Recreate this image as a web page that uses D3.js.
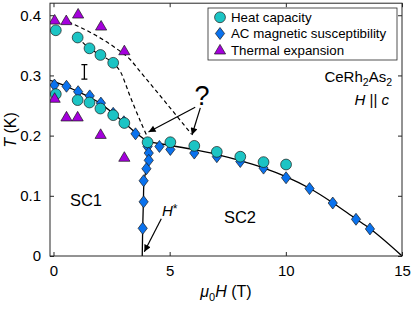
<!DOCTYPE html>
<html><head><meta charset="utf-8">
<script src="https://cdn.jsdelivr.net/npm/d3@7"></script>
<style>body{margin:0;background:#fff;} text{font-family:"Liberation Sans",Arial,Helvetica,sans-serif;fill:#000;}</style>
</head><body><svg id="c" width="415" height="312"></svg>
<script>
// ---- data (field H in T, temperature T in K) ----
const heatCapacity = [[0.1,0.375],[1.04,0.363],[1.55,0.345],[2.02,0.334],[2.57,0.321],
  [0.1,0.269],[1.04,0.259],[1.55,0.255],[2.02,0.245],[2.57,0.234],[3.05,0.221],
  [4.05,0.189],[5.03,0.189],[6.06,0.183],[7.03,0.173],[8.04,0.165],[9.04,0.156],[10.01,0.152]];
const acSusceptibility = [[0.04,0.284],[0.56,0.282],[1.06,0.273],[1.56,0.266],[2.04,0.254],[2.57,0.237],
  [3.03,0.223],[3.53,0.203],[4.05,0.182],[4.1,0.171],[4.1,0.159],[4.0,0.145],[3.88,0.125],[3.88,0.090],[3.84,0.046],
  [4.56,0.182],[5.03,0.177],[6.06,0.171],[7.03,0.165],[8.04,0.157],[9.04,0.146],[10.01,0.130],
  [11.02,0.112],[12.02,0.088],[13.02,0.061],[13.62,0.045]];
const thermalExpansion = [[0.05,0.392],[0.55,0.391],[1.06,0.402],[2.05,0.382],[3.05,0.341],
  [0.05,0.262],[0.56,0.231],[1.04,0.231],[2.03,0.202],[3.05,0.164]];
const errorBar = [[1.33,0.306,0.012]];
const lineSC1 = [[-0.15,0.292],[0.5,0.283],[1,0.274],[1.5,0.265],[2,0.254],[2.5,0.239],[3,0.223],[3.5,0.206],[4.05,0.19]];
const lineSC2 = [[4.05,0.19],[5,0.184],[6,0.177],[7,0.169],[8,0.159],[9,0.147],[10,0.132],[11,0.113],[12,0.089],[13,0.062],[13.6,0.046],[15,0]];
const lineHstar = [[4.05,0.19],[4.1,0.172],[4.08,0.16],[4.0,0.145],[3.9,0.125],[3.87,0.09],[3.84,0.046],[3.82,0]];
const dashOuter = [[0.645,0.389],[1.8,0.367],[2.66,0.346],[3.31,0.326],[3.74,0.306],[4.81,0.256],[5.93,0.203]];
const dashInner = [[1.04,0.363],[1.55,0.345],[2.02,0.334],[2.57,0.321],[2.88,0.306],[3.09,0.287],[3.31,0.264],[3.74,0.224],[4.04,0.198]];
const xTicks = [0,5,10,15];
const yTicks = [0,0.1,0.2,0.3,0.4];
const yTickLabels = ["0","0.1","0.2","0.3","0.4"];
const legendLabels = ["Heat capacity","AC magnetic susceptibility","Thermal expansion"];

const svg = d3.select("#c");
const L=50,R=402,T=3.2,B=256;
const x = d3.scaleLinear().domain([-0.15,15]).range([L,R]);
const y = d3.scaleLinear().domain([0,0.42]).range([B,T]);
const frame="#262626";
const cHC="#1cc4c4", cAC="#0a72ee", cTE="#a400dc";

const clip = svg.append("defs");
clip.append("clipPath").attr("id","pc").append("rect").attr("x",L).attr("y",T).attr("width",R-L).attr("height",B-T);
clip.append("marker").attr("id","ah").attr("viewBox","0 0 10 10").attr("refX",10).attr("refY",5)
  .attr("markerUnits","userSpaceOnUse").attr("markerWidth",9).attr("markerHeight",7).attr("orient","auto")
  .append("path").attr("d","M0,0L10,5L0,10z").attr("fill","#000");

const g = svg.append("g").attr("clip-path","url(#pc)");
const line = d3.line().x(d=>x(d[0])).y(d=>y(d[1]));
g.append("path").attr("d",line.curve(d3.curveMonotoneX)(dashOuter)).attr("fill","none").attr("stroke","#000").attr("stroke-width",1.2).attr("stroke-dasharray","4,3");
g.append("path").attr("d",line.curve(d3.curveCatmullRom)(dashInner)).attr("fill","none").attr("stroke","#000").attr("stroke-width",1.2).attr("stroke-dasharray","4,3");
g.append("path").attr("d",line.curve(d3.curveMonotoneX)(lineSC1)).attr("fill","none").attr("stroke","#000").attr("stroke-width",1.3);
g.append("path").attr("d",line.curve(d3.curveMonotoneX)(lineSC2)).attr("fill","none").attr("stroke","#000").attr("stroke-width",1.3);
g.append("path").attr("d",line.curve(d3.curveCatmullRom)(lineHstar)).attr("fill","none").attr("stroke","#000").attr("stroke-width",1.3);

// error bar
errorBar.forEach(e=>{
  const xe=x(e[0]), y1=y(e[1]-e[2]), y2=y(e[1]+e[2]);
  g.append("path").attr("d",`M${xe},${y1}V${y2}M${xe-3},${y1}H${xe+3}M${xe-3},${y2}H${xe+3}`).attr("stroke","#000").attr("stroke-width",1.3).attr("fill","none");
});

const diamond="M0,-6L4.6,0L0,6L-4.6,0Z";
const tri="M0,-5.6L5.6,4L-5.6,4Z";
g.selectAll(".ac").data(acSusceptibility).enter().append("path").attr("d",diamond)
  .attr("transform",d=>`translate(${x(d[0])},${y(d[1])})`).attr("fill",cAC).attr("stroke","#1a1a1a").attr("stroke-width",0.7);
g.selectAll(".hc").data(heatCapacity).enter().append("circle").attr("r",5.4)
  .attr("cx",d=>x(d[0])).attr("cy",d=>y(d[1])).attr("fill",cHC).attr("stroke","#1a1a1a").attr("stroke-width",0.7);
g.selectAll(".te").data(thermalExpansion).enter().append("path").attr("d",tri)
  .attr("transform",d=>`translate(${x(d[0])},${y(d[1])})`).attr("fill",cTE).attr("stroke","#1a1a1a").attr("stroke-width",0.7);

// frame & ticks
svg.append("rect").attr("x",L).attr("y",T).attr("width",R-L).attr("height",B-T).attr("fill","none").attr("stroke",frame).attr("stroke-width",1);
const axB = d3.axisBottom(x).tickValues(xTicks).tickSize(-4).tickPadding(9).tickFormat(d3.format("d"));
const axT = d3.axisTop(x).tickValues(xTicks).tickSize(-4).tickFormat("");
const axL = d3.axisLeft(y).tickValues(yTicks).tickSize(-4).tickPadding(9).tickFormat((d,i)=>yTickLabels[i]);
const axR = d3.axisRight(y).tickValues(yTicks).tickSize(-4).tickFormat("");
function styleAx(s){s.select(".domain").remove();s.selectAll("line").attr("stroke",frame);s.selectAll("text").attr("font-size",15).attr("font-family","Liberation Sans, Arial, sans-serif").attr("fill","#000");}
svg.append("g").attr("transform",`translate(0,${B})`).call(axB).call(styleAx);
svg.append("g").attr("transform",`translate(0,${T})`).call(axT).call(styleAx);
svg.append("g").attr("transform",`translate(${L},0)`).call(axL).call(styleAx);
svg.append("g").attr("transform",`translate(${R},0)`).call(axR).call(styleAx);

// axis labels
svg.append("text").attr("transform","translate(16,130) rotate(-90)").attr("text-anchor","middle").attr("font-size",16)
  .html('<tspan font-style="italic">T</tspan> (K)');
svg.append("text").attr("x",226).attr("y",297).attr("text-anchor","middle").attr("font-size",16)
  .html('<tspan font-style="italic">μ</tspan><tspan dy="4" font-size="11">0</tspan><tspan dy="-4" font-style="italic">H</tspan> (T)');

// annotations
svg.append("text").attr("x",86).attr("y",206).attr("text-anchor","middle").attr("font-size",16.5).text("SC1");
svg.append("text").attr("x",240).attr("y",223).attr("text-anchor","middle").attr("font-size",16.5).text("SC2");
svg.append("text").attr("x",202).attr("y",105).attr("text-anchor","middle").attr("font-size",27).text("?");
svg.append("text").attr("x",162).attr("y",216).attr("font-size",15).html('<tspan font-style="italic">H</tspan><tspan dy="-3" font-size="12">*</tspan>');
svg.append("text").attr("x",392).attr("y",82).attr("text-anchor","end").attr("font-size",15)
  .html('CeRh<tspan dy="4" font-size="10.5">2</tspan><tspan dy="-4">As</tspan><tspan dy="4" font-size="10.5">2</tspan>');
svg.append("text").attr("x",389).attr("y",105).attr("text-anchor","end").attr("font-size",15)
  .html('<tspan font-style="italic">H</tspan> || <tspan font-style="italic">c</tspan>');
const arrows=[[[6.1,0.247],[4.09,0.206]],[[6.32,0.246],[5.96,0.201]],[[4.64,0.062],[3.91,0.007]]];
arrows.forEach(a=>svg.append("line").attr("x1",x(a[0][0])).attr("y1",y(a[0][1])).attr("x2",x(a[1][0])).attr("y2",y(a[1][1]))
  .attr("stroke","#000").attr("stroke-width",1.2).attr("marker-end","url(#ah)"));

// legend
const lg=svg.append("g");
lg.append("rect").attr("x",208).attr("y",8).attr("width",189).attr("height",52).attr("fill","#fff").attr("stroke",frame).attr("stroke-width",0.8);
const rows=[17.3,33.5,50];
lg.append("circle").attr("cx",220).attr("cy",rows[0]).attr("r",5.4).attr("fill",cHC).attr("stroke","#1a1a1a").attr("stroke-width",0.7);
lg.append("path").attr("d",diamond).attr("transform",`translate(220,${rows[1]})`).attr("fill",cAC).attr("stroke","#1a1a1a").attr("stroke-width",0.7);
lg.append("path").attr("d",tri).attr("transform",`translate(220,${rows[2]})`).attr("fill",cTE).attr("stroke","#1a1a1a").attr("stroke-width",0.7);
legendLabels.forEach((t,i)=>lg.append("text").attr("x",231).attr("y",rows[i]+4.7).attr("font-size",13.3).text(t));
</script></body></html>
